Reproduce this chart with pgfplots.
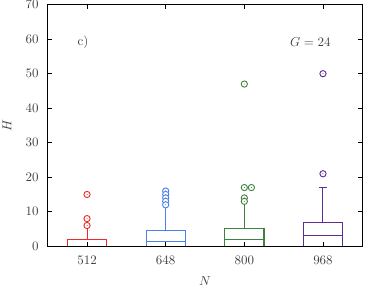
\documentclass[border=0pt]{standalone}
\usepackage{pgfplots}
\pgfplotsset{compat=1.18}
\usepgfplotslibrary{statistics}
\definecolor{cR}{HTML}{F02828}
\definecolor{cB}{HTML}{4682EA}
\definecolor{cG}{HTML}{3F823F}
\definecolor{cP}{HTML}{5E2C96}
\definecolor{txt}{HTML}{404040}
\pgfdeclareplotmark{odot}{%
  \pgfscope
  \pgfsetfillcolor{white}%
  \pgfpathcircle{\pgfpointorigin}{\pgfplotmarksize}\pgfusepathqfillstroke
  \endpgfscope
  \pgfscope
  \pgfsetfillcolor{.}%
  \pgfpathcircle{\pgfpointorigin}{0.4pt}\pgfusepathqfill
  \endpgfscope}
\pgfplotsset{outl/.style={only marks, mark=odot, mark size=2.4bp, line width=0.7pt}}
\begin{document}
\begin{tikzpicture}
\begin{axis}[
  name=ax,
  scale only axis,
  width=242bp, height=185.8bp,
  xmin=0.5, xmax=4.5, ymin=0, ymax=70,
  xtick={1,2,3,4}, xticklabels={512,648,800,968},
  ytick={0,10,...,70},
  tick align=inside,
  major tick length=3bp,
  minor tick num=0,
  axis line style={line width=0.6pt, black},
  every tick/.style={black, line width=0.6pt},
  tick label style={text=txt},
  yticklabel style={xshift=-3.5bp},
  xticklabel style={yshift=-4bp},
  xlabel={$N$}, ylabel={$H$},
  label style={text=txt},
  xlabel style={at={(axis description cs:0.5,-0.145)}, anchor=center},
  ylabel style={at={(axis description cs:-0.1294,0.5)}, anchor=center},
  axis on top,
  boxplot/draw direction=y,
  boxplot/box extend=0.5,
  boxplot/whisker extend=0.11,
]
% boxes
\addplot[cR, draw=cR, line width=0.8pt, boxplot/whisker extend=0, boxplot prepared={draw position=1,
  lower whisker=0, lower quartile=0, median=0, upper quartile=2, upper whisker=5}] coordinates {};
\addplot[cB, draw=cB, line width=0.8pt, boxplot/whisker extend=0, boxplot prepared={draw position=2,
  lower whisker=0, lower quartile=0, median=1.5, upper quartile=4.5, upper whisker=11}] coordinates {};
\addplot[cG, draw=cG, line width=0.8pt, boxplot/whisker extend=0, boxplot prepared={draw position=3,
  lower whisker=0, lower quartile=0, median=2, upper quartile=5, upper whisker=12}] coordinates {};
\addplot[cP, draw=cP, line width=0.8pt, boxplot prepared={draw position=4,
  lower whisker=0, lower quartile=0, median=3, upper quartile=7, upper whisker=17}] coordinates {};
% outliers
\addplot[cR, outl] coordinates {(1,15) (1,8) (1,6)};
\addplot[cB, outl] coordinates {(2,16) (2,15) (2,14) (2,13) (2,12)};
\addplot[cG, outl] coordinates {(3,47) (3.09,17) (3,17) (3,14) (3,13)};
\addplot[cP, outl] coordinates {(4,50) (4,21)};
\node[text=txt, anchor=center] at (axis cs:0.95,59.2) {c)};
\node[text=txt, anchor=center] at (axis cs:3.84,59.2) {$G=24$};
\end{axis}
\pgfresetboundingbox
\useasboundingbox ([xshift=-36.7bp,yshift=-31.3bp]ax.south west) rectangle ([xshift=2.85bp,yshift=3.6bp]ax.north east);
\end{tikzpicture}
\end{document}
